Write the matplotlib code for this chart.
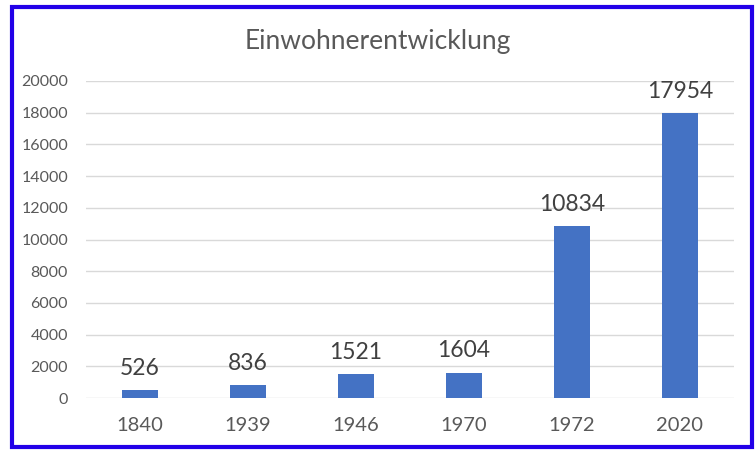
import matplotlib.pyplot as plt
from matplotlib.patches import Rectangle

# Data
years = ["1840", "1939", "1946", "1970", "1972", "2020"]
einwohner = [526, 836, 1521, 1604, 10834, 17954]
y_ticks = [0, 2000, 4000, 6000, 8000, 10000, 12000, 14000, 16000, 18000, 20000]

plt.rcParams['font.family'] = ['Lato', 'DejaVu Sans']
text_col = '#595959'

fig = plt.figure(figsize=(7.56, 4.5), dpi=100)
ax = fig.add_axes([86 / 756, 1 - 398 / 450, (734 - 86) / 756, (398 - 81) / 450])

x = range(len(years))
bars = ax.bar(x, einwohner, width=0.33, color='#4472C4', zorder=3)

# value labels above the bars
for xi, val in zip(x, einwohner):
    ax.annotate(str(val), (xi, val), xytext=(0, 8), textcoords='offset points',
                ha='center', va='bottom', fontsize=16.5, color='#404040')

ax.set_xlim(-0.5, len(years) - 0.5)
ax.set_ylim(0, 20000)
ax.set_xticks(list(x))
ax.set_xticklabels(years)
ax.set_yticks(y_ticks)
ax.set_yticklabels([str(t) for t in y_ticks])
ax.tick_params(axis='x', length=0, pad=14, labelsize=14.5, labelcolor=text_col)
ax.tick_params(axis='y', length=0, pad=13, labelsize=11.5, labelcolor=text_col)

ax.grid(axis='y', color='#D9D9D9', linewidth=1, zorder=0)
for s in ax.spines.values():
    s.set_visible(False)

fig.text(0.5, 1 - 41 / 450, 'Einwohnerentwicklung', ha='center', va='center',
         fontsize=19, color=text_col)

# blue frame around the chart
fig.add_artist(Rectangle((12 / 756, 1 - 447 / 450), (752 - 12) / 756, (447 - 7) / 450,
                         transform=fig.transFigure, fill=False,
                         edgecolor='#2200E8', linewidth=3))

fig.savefig('out.png', dpi=100)
